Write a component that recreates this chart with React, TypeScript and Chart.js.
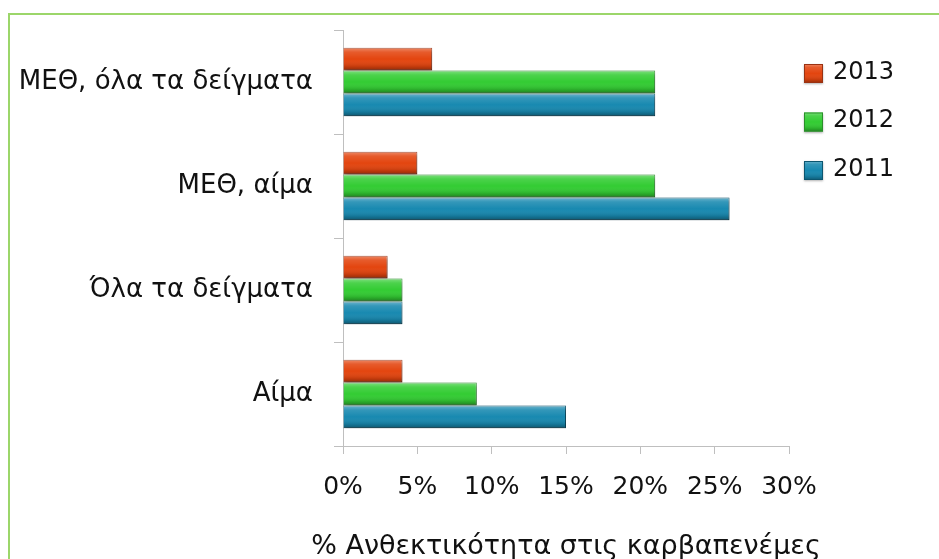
import React, { useEffect, useRef } from "react";
import { Chart, registerables } from "chart.js";

Chart.register(...registerables);

const categories = ["ΜΕΘ, όλα τα δείγματα", "ΜΕΘ, αίμα", "Όλα τα δείγματα", "Αίμα"];
const seriesNames = ["2013", "2012", "2011"];
const values2013 = [6, 5, 3, 4];
const values2012 = [21, 21, 4, 9];
const values2011 = [21, 26, 4, 15];
const xTickValues = [0, 5, 10, 15, 20, 25, 30];
const xTitle = "% Ανθεκτικότητα στις καρβαπενέμες";

const FONT = "'DejaVu Sans', sans-serif";
const fills = ["#e3450f", "#33cc33", "#1889b0"];
const borders = ["#9a3212", "#2a8f2a", "#0c5670"];

function gloss(ctx: CanvasRenderingContext2D, x: number, y: number, w: number, h: number) {
  const g = ctx.createLinearGradient(0, y, 0, y + h);
  g.addColorStop(0, "rgba(255,255,255,0.35)");
  g.addColorStop(0.18, "rgba(255,255,255,0.12)");
  g.addColorStop(0.5, "rgba(255,255,255,0)");
  g.addColorStop(0.82, "rgba(0,0,0,0.12)");
  g.addColorStop(1, "rgba(0,0,0,0.35)");
  ctx.fillStyle = g;
  ctx.fillRect(x, y, w, h);
}

const barStylePlugin = {
  id: "barStyle",
  beforeDatasetsDraw(chart: any) {
    const ctx = chart.ctx;
    ctx.save();
    ctx.shadowColor = "rgba(0,0,0,0.35)";
    ctx.shadowBlur = 4;
    ctx.shadowOffsetX = 1;
    ctx.shadowOffsetY = 2;
  },
  afterDatasetsDraw(chart: any) {
    const ctx = chart.ctx;
    ctx.restore();
    ctx.save();
    chart.data.datasets.forEach((_: any, di: number) => {
      const meta = chart.getDatasetMeta(di);
      meta.data.forEach((el: any) => {
        const { x, y, base, height } = el.getProps(["x", "y", "base", "height"], true);
        const left = Math.min(x, base) + 0.5;
        const w = Math.abs(x - base) - 1;
        gloss(ctx, left, y - height / 2 + 0.5, w, height - 1);
      });
    });
    ctx.restore();
  },
};

const legendPlugin = {
  id: "customLegend",
  afterDraw(chart: any) {
    const ctx = chart.ctx;
    const area = chart.chartArea;
    const boxX = area.right + 15;
    const size = 19;
    ctx.save();
    chart.data.datasets.forEach((ds: any, i: number) => {
      const top = area.top + 34 + i * 48.5;
      ctx.shadowColor = "rgba(0,0,0,0.3)";
      ctx.shadowBlur = 2;
      ctx.shadowOffsetY = 1;
      ctx.fillStyle = fills[i];
      ctx.fillRect(boxX, top, size, size);
      ctx.shadowColor = "transparent";
      gloss(ctx, boxX, top, size, size);
      ctx.strokeStyle = borders[i];
      ctx.lineWidth = 1;
      ctx.strokeRect(boxX + 0.5, top + 0.5, size - 1, size - 1);
      ctx.fillStyle = "#111";
      ctx.font = `24px ${FONT}`;
      ctx.textBaseline = "alphabetic";
      ctx.textAlign = "left";
      ctx.fillText(ds.label, boxX + 29, top + 14.5);
    });
    // x-axis title (drawn without the scale's width limit)
    ctx.font = `27px ${FONT}`;
    ctx.fillStyle = "#111";
    ctx.textAlign = "center";
    ctx.textBaseline = "middle";
    ctx.fillText(xTitle, (area.left + area.right) / 2, area.bottom + 101);
    ctx.restore();
  },
};

export default function App() {
  const ref = useRef<HTMLCanvasElement | null>(null);

  useEffect(() => {
    if (!ref.current) return;
    const seriesValues = [values2013, values2012, values2011];
    const chart = new Chart(ref.current, {
      type: "bar",
      data: {
        labels: categories,
        datasets: seriesNames.map((name, i) => ({
          label: name,
          data: seriesValues[i],
          backgroundColor: fills[i],
          borderColor: borders[i],
          borderWidth: 1,
          categoryPercentage: 0.66,
          barPercentage: 1,
        })),
      },
      options: {
        indexAxis: "y",
        responsive: false,
        animation: false,
        devicePixelRatio: 1,
        layout: { padding: { left: 0, right: 150, top: 30, bottom: 0 } },
        plugins: {
          legend: { display: false },
          tooltip: { enabled: false },
        },
        scales: {
          x: {
            min: 0,
            max: 30,
            afterBuildTicks: (scale: any) => {
              scale.ticks = xTickValues.map((v) => ({ value: v }));
            },
            afterFit: (scale: any) => {
              scale.height = 113;
            },
            ticks: {
              callback: (v: any) => `${v}%`,
              font: { family: FONT, size: 25 },
              color: "#111",
              padding: 18,
              maxRotation: 0,
            },
            grid: {
              drawOnChartArea: false,
              drawTicks: true,
              tickLength: 8,
              color: "#bfbfbf",
            },
            border: { display: true, color: "#bfbfbf" },
            title: { display: false },
          },
          y: {
            afterFit: (scale: any) => {
              scale.width = 343;
              scale.paddingTop = 0;
              scale.paddingBottom = 0;
            },
            ticks: {
              font: { family: FONT, size: 26 },
              color: "#111",
              padding: 21,
            },
            grid: {
              offset: true,
              drawOnChartArea: false,
              drawTicks: true,
              tickLength: 9,
              color: "#bfbfbf",
            },
            border: { display: true, color: "#bfbfbf" },
          },
        },
      },
      plugins: [barStylePlugin, legendPlugin],
    } as any);
    return () => chart.destroy();
  }, []);

  return (
    <div style={{ position: "fixed", left: 0, top: 0, width: 939, height: 559, background: "#fff", overflow: "hidden" }}>
      <div
        style={{
          position: "absolute",
          left: 8,
          top: 13,
          width: 960,
          height: 600,
          borderTop: "2px solid #9cd66a",
          borderLeft: "2px solid #9cd66a",
        }}
      />
      <canvas ref={ref} width={939} height={559} style={{ position: "absolute", left: 0, top: 0 }} />
    </div>
  );
}
